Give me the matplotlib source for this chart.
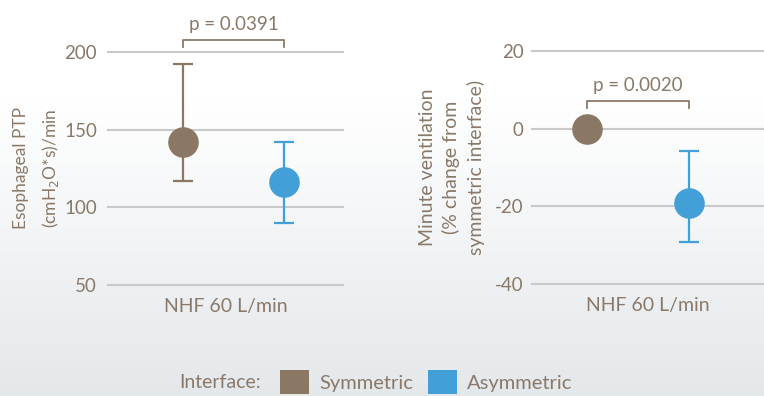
import numpy as np
import matplotlib.pyplot as plt
from matplotlib.patches import Patch

plt.rcParams['font.family'] = ['Lato', 'DejaVu Sans']
plt.rcParams['axes.unicode_minus'] = False

# values
groups = ["Symmetric", "Asymmetric"]
colors = ["#8a7764", "#439fd8"]
xpos = [1, 2]

ptp_mean = [142, 116]
ptp_low = [117, 90]
ptp_high = [192, 142]

mv_mean = [0, -19.2]
mv_low = [None, -29.3]
mv_high = [None, -5.7]

text_col = "#8a7968"
grid_col = "#c9c9c9"

fig = plt.figure(figsize=(7.64, 3.96), dpi=100)

# background gradient
bg = fig.add_axes([0, 0, 1, 1], zorder=-10)
grad = np.linspace(0, 1, 256).reshape(-1, 1)
grad = np.clip((grad - 0.25) / 0.75, 0, 1)
top = np.array([1.0, 1.0, 1.0])
bot = np.array([0.894, 0.910, 0.922])
img = top + (bot - top) * grad[..., None]
bg.imshow(img, aspect="auto", extent=[0, 1, 0, 1], origin="upper")
bg.axis("off")


def style(ax, ticks, xlim, ylim, pad):
    ax.set_xlim(*xlim)
    ax.set_ylim(*ylim)
    ax.set_yticks(ticks)
    ax.set_xticks([])
    for s in ax.spines.values():
        s.set_visible(False)
    ax.set_facecolor("none")
    for t in ticks:
        ax.axhline(t, color=grid_col, lw=1.5, zorder=0, clip_on=False)
    ax.tick_params(axis="y", length=0, pad=pad, labelsize=13.5, labelcolor=text_col)


def bracket(ax, x1, x2, y, h, label):
    ax.plot([x1, x1, x2, x2], [y - h, y, y, y - h], color=text_col, lw=1.3,
            clip_on=False)
    ax.text((x1 + x2) / 2, y + h * 0.9, label, ha="center", va="bottom",
            fontsize=13.5, color=text_col, clip_on=False)


# left panel
ax1 = fig.add_axes([0.1414, 0.2803, 0.3076, 0.5884])
style(ax1, [50, 100, 150, 200], (0.257, 2.584), (50, 200), 8)
for i in range(2):
    ax1.errorbar(xpos[i], ptp_mean[i],
                 yerr=[[ptp_mean[i] - ptp_low[i]], [ptp_high[i] - ptp_mean[i]]],
                 fmt="o", color=colors[i], ms=21, elinewidth=1.6, capsize=7.5,
                 capthick=1.6, zorder=3, clip_on=False)
ax1.set_ylabel("Esophageal PTP\n(cmH$_2$O*s)/min", fontsize=12.5, color=text_col,
               labelpad=2, linespacing=1.7)
ax1.set_xlabel("NHF 60 L/min", fontsize=14, color=text_col, labelpad=9)
bracket(ax1, 1, 2, 208, 5, "p = 0.0391")

# right panel
ax2 = fig.add_axes([0.6963, 0.2828, 0.3037, 0.5884])
style(ax2, [-40, -20, 0, 20], (0.461, 2.735), (-40, 20), 6)
for i in range(2):
    if mv_low[i] is None:
        ax2.plot(xpos[i], mv_mean[i], "o", color=colors[i], ms=21, zorder=3,
                 clip_on=False)
    else:
        ax2.errorbar(xpos[i], mv_mean[i],
                     yerr=[[mv_mean[i] - mv_low[i]], [mv_high[i] - mv_mean[i]]],
                     fmt="o", color=colors[i], ms=21, elinewidth=1.6,
                     capsize=7.5, capthick=1.6, zorder=3, clip_on=False)
ax2.set_ylabel("Minute ventilation\n(% change from\nsymmetric interface)",
               fontsize=14, color=text_col, labelpad=7, linespacing=1.45)
ax2.set_xlabel("NHF 60 L/min", fontsize=14, color=text_col, labelpad=9)
bracket(ax2, 1, 2, 7.2, 2, "p = 0.0020")

# legend
handles = [Patch(facecolor=c, edgecolor="none") for c in colors]
fig.text(0.235, 0.035, "Interface:", fontsize=14, color=text_col,
         ha="left", va="center")
leg = fig.legend(handles, groups, loc="center left", bbox_to_anchor=(0.353, 0.035),
                 ncol=2, frameon=False, fontsize=14.5, handlelength=1.45,
                 handleheight=1.45, handletextpad=0.5, columnspacing=0.75,
                 borderpad=0)
for t in leg.get_texts():
    t.set_color(text_col)

fig.savefig("out.png", dpi=100)
